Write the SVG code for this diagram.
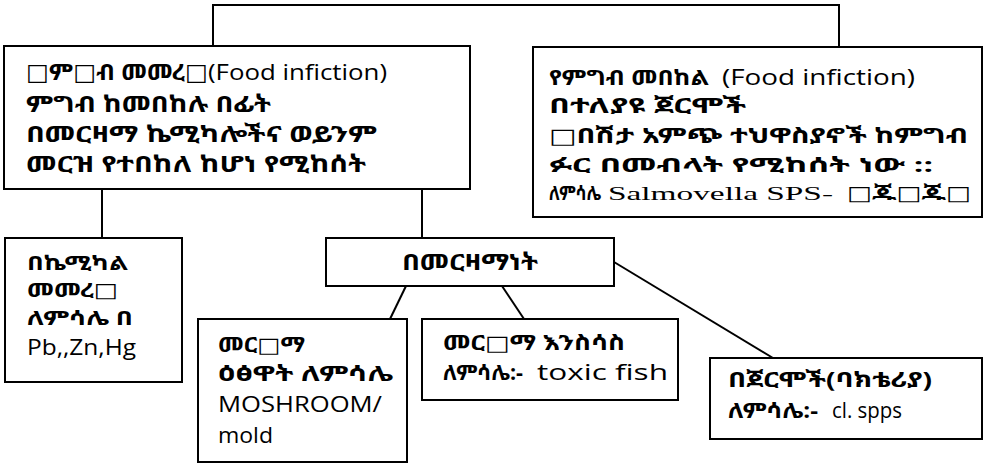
<svg xmlns="http://www.w3.org/2000/svg" width="987" height="463" viewBox="0 0 987 463">
<style>
.box{fill:#fff;stroke:#000;stroke-width:2}
.ln{fill:none;stroke:#000;stroke-width:2}
text{font-family:"Open Sans","Noto Sans Ethiopic","Abyssinica SIL","DejaVu Sans",sans-serif;fill:#000}
.et{font-weight:bold;font-size:21px}
.big{font-size:23px}
.sm{font-size:20px}
.lat{font-weight:normal;font-size:21px}
.ser{font-family:"Liberation Serif",serif;font-size:19px;font-weight:normal}
</style>
<rect width="987" height="463" fill="#fff"/>
<g id="connectors">
<polyline class="ln" points="213,46 213,5 839,5 839,47"/>
<line class="ln" x1="102" y1="189" x2="102" y2="238"/>
<line class="ln" x1="422" y1="189" x2="422" y2="238"/>
<line class="ln" x1="406" y1="286" x2="390" y2="319"/>
<line class="ln" x1="502" y1="286" x2="524" y2="319"/>
<line class="ln" x1="614" y1="262" x2="773" y2="358"/>
</g>
<g id="node1">
<rect class="box" x="4" y="46" width="466" height="143"/>
<text class="et big" x="26" y="80" textLength="182" lengthAdjust="spacingAndGlyphs">□ም□ብ መመረ□</text>
<text class="lat" x="208" y="80" textLength="179" lengthAdjust="spacingAndGlyphs">(Food infiction)</text>
<text class="et big" x="26" y="112" textLength="245" lengthAdjust="spacingAndGlyphs">ምግብ ከመበከሉ በፊት</text>
<text class="et big" x="26" y="142" textLength="351" lengthAdjust="spacingAndGlyphs">በመርዛማ ኬሚካሎችና ወይንም</text>
<text class="et big" x="26" y="172" textLength="340" lengthAdjust="spacingAndGlyphs">መርዝ የተበከለ ከሆነ የሚከሰት</text>
</g>
<g id="node2">
<rect class="box" x="533" y="47" width="449" height="170"/>
<text class="et" x="549" y="85" textLength="160" lengthAdjust="spacingAndGlyphs">የምግብ መበከል</text>
<text class="lat" x="722" y="85" textLength="193" lengthAdjust="spacingAndGlyphs">(Food infiction)</text>
<text class="et" x="549" y="113" textLength="197" lengthAdjust="spacingAndGlyphs">በተለያዩ ጀርሞች</text>
<text class="et" x="549" y="143" textLength="419" lengthAdjust="spacingAndGlyphs">□በሽታ አምጭ ተህዋስያኖች ከምግብ</text>
<text class="et sm" x="549" y="172" textLength="384" lengthAdjust="spacingAndGlyphs">ፉር በመብላት የሚከሰት ነው ::</text>
<text class="et sm" x="549" y="200" textLength="52" lengthAdjust="spacingAndGlyphs">ለምሳሌ</text>
<text class="ser" x="608" y="200" textLength="225" lengthAdjust="spacingAndGlyphs">Salmovella SPS-</text>
<text class="et sm" x="847" y="200" textLength="124" lengthAdjust="spacingAndGlyphs">□ጁ□ጁ□</text>
</g>
<g id="node3">
<rect class="box" x="5" y="238" width="177" height="144"/>
<text class="et sm" x="27" y="270" textLength="101" lengthAdjust="spacingAndGlyphs">በኬሚካል</text>
<text class="et sm" x="27" y="297" textLength="91" lengthAdjust="spacingAndGlyphs">መመረ□</text>
<text class="et sm" x="27" y="325" textLength="106" lengthAdjust="spacingAndGlyphs">ለምሳሌ በ</text>
<text class="lat" x="27" y="355" textLength="109" lengthAdjust="spacingAndGlyphs">Pb,,Zn,Hg</text>
</g>
<g id="node4">
<rect class="box" x="326" y="238" width="288" height="48"/>
<text class="et big" x="402" y="270" textLength="136" lengthAdjust="spacingAndGlyphs">በመርዛማነት</text>
</g>
<g id="node5">
<rect class="box" x="198" y="319" width="209" height="143"/>
<text class="et" x="218" y="352" textLength="87" lengthAdjust="spacingAndGlyphs">መር□ማ</text>
<text class="et" x="218" y="381" textLength="175" lengthAdjust="spacingAndGlyphs">ዕፅዋት ለምሳሌ</text>
<text class="lat" x="218" y="412" textLength="164" lengthAdjust="spacingAndGlyphs">MOSHROOM/</text>
<text class="lat" x="218" y="443" textLength="55" lengthAdjust="spacingAndGlyphs">mold</text>
</g>
<g id="node6">
<rect class="box" x="422" y="319" width="256" height="81"/>
<text class="et" x="443" y="350" textLength="182" lengthAdjust="spacingAndGlyphs">መር□ማ እንስሳስ</text>
<text class="et" x="443" y="380" textLength="80" lengthAdjust="spacingAndGlyphs">ለምሳሌ:-</text>
<text class="lat" x="537" y="380" textLength="131" lengthAdjust="spacingAndGlyphs">toxic fish</text>
</g>
<g id="node7">
<rect class="box" x="710" y="358" width="272" height="81"/>
<text class="et" x="728" y="387" textLength="204" lengthAdjust="spacingAndGlyphs">በጀርሞች(ባክቴሪያ)</text>
<text class="et" x="728" y="418" textLength="90" lengthAdjust="spacingAndGlyphs">ለምሳሌ:-</text>
<text class="lat" x="832" y="418" textLength="70" lengthAdjust="spacingAndGlyphs">cl. spps</text>
</g>
</svg>
